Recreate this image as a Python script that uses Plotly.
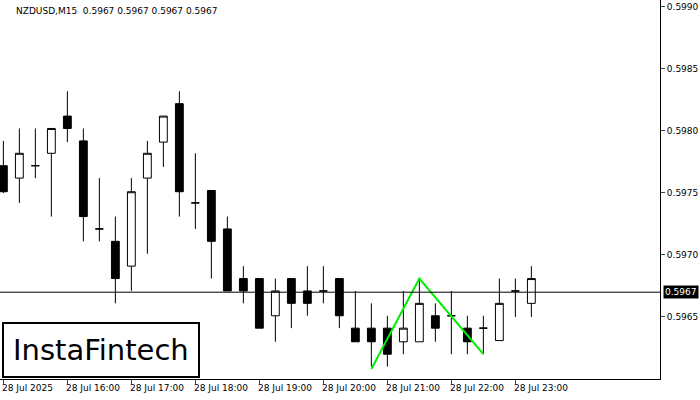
import plotly.graph_objects as go

idx = list(range(34))
opens  = [0.59772,0.59762,0.59772,0.59782,0.59812,0.59792,0.59721,0.59711,0.59691,0.59762,0.59791,0.59822,0.59742,0.59752,0.59721,0.59681,
          0.59681,0.59651,0.59681,0.59671,0.59671,0.59681,0.59641,0.59641,0.59641,0.59630,0.59630,0.59651,0.59651,0.59641,0.59641,0.59631,0.59671,0.59661]
highs  = [0.59792,0.59802,0.59802,0.59802,0.59832,0.59802,0.59762,0.59731,0.59762,0.59792,0.59812,0.59832,0.59782,0.59752,0.59731,0.59691,
          0.59681,0.59681,0.59681,0.59691,0.59691,0.59681,0.59671,0.59661,0.59651,0.59671,0.59681,0.59661,0.59671,0.59651,0.59651,0.59681,0.59681,0.59691]
lows   = [0.59750,0.59742,0.59762,0.59731,0.59791,0.59711,0.59711,0.59661,0.59671,0.59701,0.59771,0.59731,0.59721,0.59681,0.59671,0.59661,
          0.59641,0.59630,0.59641,0.59651,0.59661,0.59641,0.59630,0.59610,0.59610,0.59620,0.59630,0.59630,0.59620,0.59620,0.59620,0.59631,0.59650,0.59650]
closes = [0.59751,0.59782,0.59772,0.59802,0.59802,0.59731,0.59721,0.59681,0.59751,0.59782,0.59812,0.59751,0.59742,0.59711,0.59671,0.59671,
          0.59641,0.59671,0.59661,0.59661,0.59671,0.59651,0.59630,0.59630,0.59620,0.59641,0.59661,0.59641,0.59651,0.59630,0.59641,0.59661,0.59671,0.59681]
pattern_x = [23, 26, 30]
pattern_y = [0.59608, 0.59681, 0.59620]
time_pos = [0, 4, 8, 12, 16, 20, 24, 28, 32]
time_labels = ["28 Jul 2025", "28 Jul 16:00", "28 Jul 17:00", "28 Jul 18:00", "28 Jul 19:00",
               "28 Jul 20:00", "28 Jul 21:00", "28 Jul 22:00", "28 Jul 23:00"]
price_ticks = [0.5965, 0.5970, 0.5975, 0.5980, 0.5985, 0.5990]
current = 0.5967

fig = go.Figure()
fig.add_trace(go.Candlestick(x=idx, open=opens, high=highs, low=lows, close=closes,
    increasing=dict(fillcolor="white", line=dict(color="black", width=1)),
    decreasing=dict(fillcolor="black", line=dict(color="black", width=1)),
    whiskerwidth=0, showlegend=False, hoverinfo="skip"))
fig.add_trace(go.Scatter(x=pattern_x, y=pattern_y, mode="lines",
    line=dict(color="#00ee00", width=2), showlegend=False, hoverinfo="skip"))
fig.add_hline(y=current, line=dict(color="black", width=1))

for p, t in zip(time_pos, time_labels):
    fig.add_annotation(x=p, y=0, xref="x", yref="paper", yanchor="top", xanchor="left",
        text=t, showarrow=False, font=dict(size=9, color="black"), xshift=-3, yshift=-2)

fig.add_annotation(x=1, y=current, xref="paper", yref="y", xanchor="left", text="0.5967",
    showarrow=False, bgcolor="black", font=dict(size=9, color="white"), xshift=3, borderpad=1)
fig.add_annotation(x=0, y=1, xref="paper", yref="paper", xanchor="left", yanchor="top",
    text="NZDUSD,M15  0.5967 0.5967 0.5967 0.5967", showarrow=False,
    font=dict(size=9, color="black"), xshift=14, yshift=-4)
fig.add_annotation(x=0, y=0, xref="paper", yref="paper", xanchor="left", yanchor="bottom",
    text="InstaFintech", showarrow=False, font=dict(size=29, color="black"),
    bgcolor="white", bordercolor="black", borderwidth=2, borderpad=9, xshift=2, yshift=1)

fig.update_layout(width=700, height=400, margin=dict(l=0, r=40, t=0, b=21),
    plot_bgcolor="white", paper_bgcolor="white", font=dict(family="DejaVu Sans", size=9, color="black"),
    xaxis=dict(range=[-0.21, 41.04], showgrid=False, rangeslider=dict(visible=False), automargin=False,
               tickvals=time_pos, ticktext=[""]*len(time_pos), ticks="outside", ticklen=4,
               showline=True, linecolor="black", mirror=True, zeroline=False),
    yaxis=dict(side="right", range=[0.5960, 0.599056], tickvals=price_ticks, automargin=False,
               ticktext=[f"{v:.4f}" for v in price_ticks], ticks="outside", ticklen=4,
               tickfont=dict(size=9, color="black"),
               showgrid=False, showline=True, linecolor="black", mirror=True, zeroline=False))
fig.write_html("out.html", config={"displayModeBar": False},
               post_script="document.body.style.margin='0';")
